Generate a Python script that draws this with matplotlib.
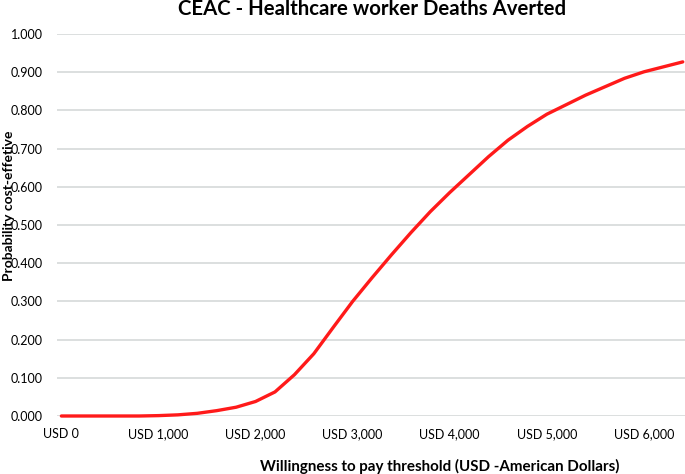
import matplotlib.pyplot as plt
from matplotlib.ticker import FuncFormatter

# Willingness to pay threshold (USD) and probability cost-effective
wtp = [0, 200, 400, 600, 800, 1000, 1200, 1400, 1600, 1800, 2000, 2200,
       2400, 2600, 2800, 3000, 3200, 3400, 3600, 3800, 4000, 4200, 4400,
       4600, 4800, 5000, 5200, 5400, 5600, 5800, 6000, 6200, 6400]
prob = [0.0, 0.0, 0.0, 0.0, 0.0, 0.001, 0.003, 0.007, 0.014, 0.023, 0.038,
        0.063, 0.108, 0.163, 0.232, 0.300, 0.362, 0.422, 0.480, 0.535,
        0.585, 0.632, 0.679, 0.722, 0.758, 0.790, 0.815, 0.840, 0.862,
        0.884, 0.901, 0.914, 0.927]

x_ticks = [0, 1000, 2000, 3000, 4000, 5000, 6000]
y_ticks = [0.0, 0.1, 0.2, 0.3, 0.4, 0.5, 0.6, 0.7, 0.8, 0.9, 1.0]

plt.rcParams['font.family'] = ['Lato', 'DejaVu Sans']

fig = plt.figure(figsize=(6.85, 4.74), dpi=100)
ax = fig.add_axes([57 / 685, 1 - 416 / 474, 1 - 57 / 685, (416 - 34) / 474])

ax.plot(wtp, prob, color='#ff1a1a', linewidth=2.4, clip_on=False,
        solid_capstyle='round', solid_joinstyle='round', zorder=3)

ax.set_xlim(-45, 6423)
ax.set_ylim(0, 1.0)
ax.set_xticks(x_ticks)
ax.set_yticks(y_ticks)
ax.xaxis.set_major_formatter(FuncFormatter(lambda v, p: f'USD {int(v):,}'))
ax.yaxis.set_major_formatter(FuncFormatter(lambda v, p: f'{v:.3f}'))
ax.tick_params(length=0, labelsize=9, colors='black')
ax.tick_params(axis='x', pad=9)
ax.tick_params(axis='y', pad=10)

ax.grid(axis='y', color='#d9dcdc', linewidth=1.3)
ax.set_axisbelow(True)
for s in ax.spines.values():
    s.set_visible(False)

fig.text(372 / 685, 1 - 9 / 474, 'CEAC - Healthcare worker Deaths Averted',
         ha='center', va='center', fontsize=14.7, fontweight='bold')
fig.text(440 / 685, 1 - 466 / 474,
         'Willingness to pay threshold (USD -American Dollars)',
         ha='center', va='center', fontsize=10.9, fontweight='bold')
fig.text(9 / 685, 1 - 206 / 474, 'Probability cost-effetive',
         ha='center', va='center', rotation=90, fontsize=10, fontweight='bold')

fig.savefig('out.png', dpi=100)
